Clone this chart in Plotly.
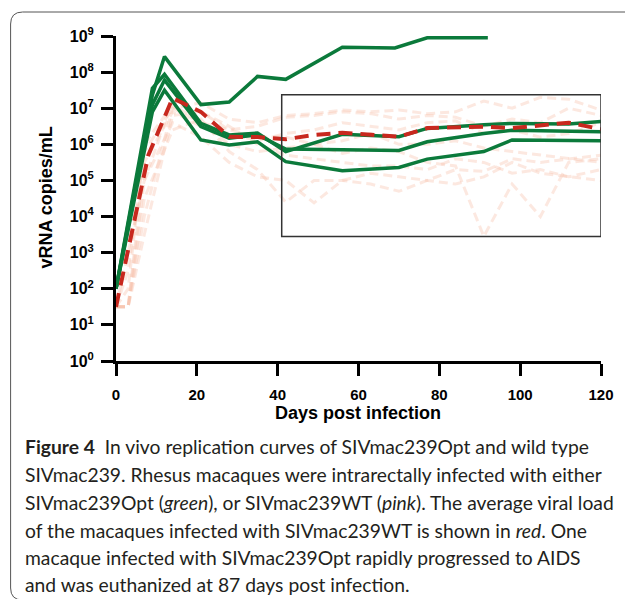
import plotly.graph_objects as go

W, H = 625, 599
# plot-area pixel bounds (layout only)
PL, PR, PT, PB = 115.5, 601.0, 36.0, 361.0

def px(x):
    return (x - PL) / (PR - PL)

def py(y):
    return (PB - y) / (PB - PT)

# ---------------- data (log10 copies/mL) ----------------
# SIVmac239Opt animals (green)
opt_a_days = [0, 9, 12, 21, 28, 35, 42, 56, 69, 77, 92]
opt_a_log = [2.0, 7.37, 8.43, 7.1, 7.17, 7.88, 7.8, 8.69, 8.67, 8.95, 8.95]

opt_b_days = [0, 9, 12, 21, 28, 35, 42, 56, 70, 77, 91, 98, 112, 120]
opt_b_log = [2.0, 7.55, 7.94, 6.58, 6.26, 6.31, 5.8, 6.28, 6.21, 6.44, 6.54, 6.58, 6.56, 6.63]

opt_c_days = [0, 9, 12, 21, 28, 35, 42, 56, 70, 77, 91, 98, 120]
opt_c_log = [2.0, 7.1, 7.78, 6.49, 6.17, 6.26, 5.87, 5.84, 5.83, 6.07, 6.3, 6.39, 6.35]

opt_d_days = [0, 9, 12, 21, 28, 35, 42, 56, 70, 77, 91, 98, 120]
opt_d_log = [2.0, 6.9, 7.5, 6.12, 5.98, 6.07, 5.52, 5.27, 5.36, 5.59, 5.8, 6.12, 6.1]

# SIVmac239WT animals (pink)
wt_days = [0, 3, 7, 14, 21, 28, 35, 42, 49, 56, 63, 70, 77, 84, 91, 98, 105, 112, 120]
wt_1 = [1.5, 1.5, 4.0, 7.0, 7.15, 6.7, 6.6, 6.8, 6.85, 6.95, 6.9, 6.95, 6.85, 6.9, 7.2, 7.0, 7.3, 7.25, 6.95]
wt_2 = [1.5, 3.0, 5.0, 7.2, 6.9, 6.4, 6.5, 6.75, 6.8, 6.9, 6.85, 6.7, 6.8, 6.75, 6.5, 6.7, 6.6, 7.0, 6.8]
wt_3 = [1.5, 1.5, 5.5, 6.9, 6.5, 6.3, 6.1, 6.3, 6.4, 6.6, 6.5, 6.4, 6.6, 6.65, 6.3, 6.4, 6.2, 6.3, 6.6]
wt_4 = [1.5, 2.5, 5.8, 7.0, 6.6, 6.0, 5.8, 5.9, 6.0, 5.75, 5.9, 5.8, 5.5, 5.4, 3.45, 4.9, 4.0, 5.5, 5.6]
wt_5 = [1.5, 1.5, 4.5, 6.4, 6.7, 5.8, 5.3, 4.4, 5.0, 5.0, 4.9, 4.7, 5.0, 5.3, 5.25, 5.6, 5.5, 5.6, 5.7]
wt_6 = [1.5, 1.5, 5.0, 6.6, 6.2, 5.5, 5.1, 5.0, 4.38, 5.0, 5.2, 5.1, 5.0, 4.9, 5.1, 5.5, 5.2, 5.1, 5.0]
wt_7 = [1.5, 2.0, 6.0, 7.1, 6.6, 6.4, 6.2, 6.2, 6.0, 6.1, 6.3, 6.0, 6.0, 6.1, 5.9, 5.8, 5.7, 5.6, 5.5]
wt_8 = [1.5, 1.5, 3.5, 6.8, 6.9, 6.5, 6.0, 5.7, 5.6, 5.5, 5.4, 5.4, 5.3, 5.6, 5.5, 5.2, 5.3, 5.1, 5.3]

# SIVmac239WT average (red)
wt_mean_days = [0, 8, 14, 21, 28, 35, 42, 49, 56, 70, 77, 91, 98, 112, 120]
wt_mean_log = [1.5, 5.7, 7.28, 6.9, 6.21, 6.2, 6.14, 6.26, 6.32, 6.21, 6.45, 6.49, 6.45, 6.6, 6.42]

# highlighted region box (days, log10)
box_days = [41, 120]
box_log = [3.45, 7.37]

x_ticks = [0, 20, 40, 60, 80, 100, 120]
y_exps = [0, 1, 2, 3, 4, 5, 6, 7, 8, 9]
y_tick_text = ["10<sup>%d</sup>" % e for e in y_exps]

caption_lines = [
    "<b>Figure 4</b>\u00a0 In vivo replication curves of SIVmac239Opt and wild type",
    "SIVmac239. Rhesus macaques were intrarectally infected with either",
    "SIVmac239Opt (<i>green</i>), or SIVmac239WT (<i>pink</i>). The average viral load",
    "of the macaques infected with SIVmac239WT is shown in <i>red</i>. One",
    "macaque infected with SIVmac239Opt rapidly progressed to AIDS",
    "and was euthanized at 87 days post infection.",
]
caption_y = [446, 474, 502, 530, 557, 584]

# ---------------- figure ----------------
GREEN = "#0b7a3b"
RED = "#c8281e"
PINK = "rgba(248, 190, 170, 0.36)"

fig = go.Figure()

for vals in [wt_1, wt_2, wt_3, wt_4, wt_5, wt_6, wt_7, wt_8]:
    fig.add_trace(go.Scatter(
        x=wt_days, y=[10 ** v for v in vals], mode="lines",
        line=dict(color=PINK, width=3, dash="9px,5px"),
        hoverinfo="skip", showlegend=False))

for d, v in [(opt_a_days, opt_a_log), (opt_b_days, opt_b_log),
             (opt_c_days, opt_c_log), (opt_d_days, opt_d_log)]:
    fig.add_trace(go.Scatter(
        x=d, y=[10 ** k for k in v], mode="lines",
        line=dict(color=GREEN, width=3.5), showlegend=False))

fig.add_trace(go.Scatter(
    x=wt_mean_days, y=[10 ** k for k in wt_mean_log], mode="lines",
    line=dict(color=RED, width=4, dash="14px,8px"), showlegend=False))

shapes = [
    dict(type="rect", xref="x", yref="paper",
         x0=box_days[0], x1=box_days[1],
         y0=box_log[0] / 9, y1=box_log[1] / 9,
         line=dict(color="#333333", width=1.5), layer="above"),
]
# outer rounded frame
path = "M {a},{b} L {c},{b} Q {d},{b} {d},{e} L {d},{f} Q {d},{g} {c},{g} L {a},{g}".format(
    a=px(640), b=py(12), c=px(22), d=px(10), e=py(24), f=py(588), g=py(600))
shapes.append(dict(type="path", xref="paper", yref="paper", path=path,
                   line=dict(color="#555555", width=1)))

annotations = []
for line, yy in zip(caption_lines, caption_y):
    annotations.append(dict(
        text=line, xref="paper", yref="paper", x=px(22), y=py(yy),
        xanchor="left", yanchor="middle", showarrow=False, align="left",
        font=dict(family="Lato", size=19.3, color="#231f20")))

annotations.append(dict(
    text="<b>Days post infection</b>", xref="paper", yref="paper",
    x=px(358), y=py(413), xanchor="center", yanchor="middle", showarrow=False,
    font=dict(family="Liberation Sans", size=18, color="black")))
annotations.append(dict(
    text="<b>vRNA copies/mL</b>", xref="paper", yref="paper",
    x=px(45), y=py(198), xanchor="center", yanchor="middle", showarrow=False,
    textangle=-90,
    font=dict(family="Liberation Sans", size=18, color="black")))

fig.update_layout(
    width=W, height=H,
    margin=dict(l=PL, r=W - PR, t=PT, b=H - PB, pad=0),
    paper_bgcolor="white", plot_bgcolor="white",
    shapes=shapes, annotations=annotations,
    showlegend=False,
    xaxis=dict(range=[0, 120], tickvals=x_ticks, showgrid=False, zeroline=False,
               showline=True, linecolor="black", linewidth=3,
               ticks="outside", ticklen=12, tickwidth=3, tickcolor="black",
               ticklabelstandoff=6,
               tickfont=dict(family="Liberation Sans", size=15, color="black", weight="bold")),
    yaxis=dict(type="log", range=[0, 9], tickvals=[10 ** e for e in y_exps],
               ticktext=y_tick_text, showgrid=False, zeroline=False,
               showline=True, linecolor="black", linewidth=3,
               ticks="outside", ticklen=12, tickwidth=3, tickcolor="black",
               ticklabelstandoff=4,
               tickfont=dict(family="Liberation Sans", size=16, color="black", weight="bold")),
)

fig.write_html("out.html", config={"displayModeBar": False},
               post_script="document.body.style.margin='0';")
